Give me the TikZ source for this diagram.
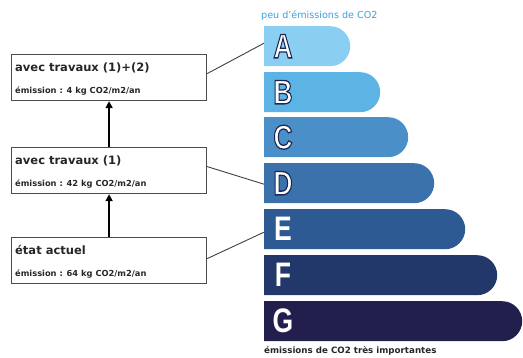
\documentclass[tikz,border=0pt]{standalone}
\usepackage{fontspec}
\setmainfont{DejaVu Sans}
\newfontfamily\letterfont{Liberation Sans}
\usetikzlibrary{shapes.misc,arrows.meta,calc}
\definecolor{cA}{HTML}{8ACFF1}
\definecolor{cB}{HTML}{5CB4E4}
\definecolor{cC}{HTML}{4B8FC9}
\definecolor{cD}{HTML}{3B72AC}
\definecolor{cE}{HTML}{2D5A92}
\definecolor{cF}{HTML}{22386A}
\definecolor{cG}{HTML}{231F4D}
\definecolor{cTop}{HTML}{3AA0DA}
\newcommand{\outlined}[1]{\special{pdf:literal direct 2 Tr 1.3 w 0.106 0.153 0.333 RG}#1\special{pdf:literal direct 0 Tr}}
\begin{document}
\begin{tikzpicture}[x=1pt,y=-1pt,
 bar/.style={rounded rectangle, rounded rectangle west arc=none, minimum height=40pt, inner sep=0pt, anchor=north west, draw=none},
 letter/.style={text=white, inner sep=0pt, font=\letterfont\bfseries\fontsize{34}{34}\selectfont},
 box/.style={draw=black!70, line width=1.2pt, minimum width=195pt, minimum height=46pt, inner sep=0pt, anchor=north west},
 title/.style={anchor=base west, inner sep=0pt, font=\bfseries\fontsize{11.5}{13}\selectfont, text=black!85},
 sub/.style={anchor=base west, inner sep=0pt, font=\bfseries\fontsize{8.3}{10}\selectfont, text=black!85},
 conn/.style={draw=black!75, line width=0.9pt},
 uparrow/.style={draw=black, line width=2.4pt, -{Triangle[length=7pt,width=7pt]}}
]
\useasboundingbox (0,0) rectangle (523,358);

% bars
\node[bar, fill=cA, minimum width=86pt]  (barA) at (264,26) {};
\node[bar, fill=cB, minimum width=116pt] (barB) at (264,72) {};
\node[bar, fill=cC, minimum width=144pt] (barC) at (264,117) {};
\node[bar, fill=cD, minimum width=170pt] (barD) at (264,163) {};
\node[bar, fill=cE, minimum width=201pt] (barE) at (264,209) {};
\node[bar, fill=cF, minimum width=233pt] (barF) at (264,255) {};
\node[bar, fill=cG, minimum width=258pt] (barG) at (264,301) {};

% letters
\node[letter] (lA) at ($(barA.west)+(19,0)$) {\scalebox{0.78}[1]{\outlined{A}}};
\node[letter] (lB) at ($(barB.west)+(19,0)$) {\scalebox{0.78}[1]{\outlined{B}}};
\node[letter] (lC) at ($(barC.west)+(19,0)$) {\scalebox{0.78}[1]{\outlined{C}}};
\node[letter] (lD) at ($(barD.west)+(19,0)$) {\scalebox{0.78}[1]{\outlined{D}}};
\node[letter] (lE) at ($(barE.west)+(19,0)$) {\scalebox{0.78}[1]{E}};
\node[letter] (lF) at ($(barF.west)+(19,0)$) {\scalebox{0.78}[1]{F}};
\node[letter] (lG) at ($(barG.west)+(19,0)$) {\scalebox{0.78}[1]{G}};

% scale captions
\node[anchor=base west, inner sep=0pt, text=cTop, font=\fontsize{9.6}{10}\selectfont] (toptext) at (261,19) {peu d'émissions de CO2};
\node[anchor=base west, inner sep=0pt, text=black!85, font=\bfseries\fontsize{8.7}{9}\selectfont] (bottext) at (264,354) {émissions de CO2 très importantes};

% boxes
\node[box] (box1) at (11,54) {};
\node[box] (box2) at (11,147) {};
\node[box] (box3) at (11,237) {};

\node[title] (t1) at ($(box1.north west)+(4,18)$) {avec travaux (1)+(2)};
\node[sub]   (s1) at ($(box1.north west)+(4,40)$) {émission : 4 kg CO2/m2/an};
\node[title] (t2) at ($(box2.north west)+(4,18)$) {avec travaux (1)};
\node[sub]   (s2) at ($(box2.north west)+(4,40)$) {émission : 42 kg CO2/m2/an};
\node[title] (t3) at ($(box3.north west)+(4,18)$) {état actuel};
\node[sub]   (s3) at ($(box3.north west)+(4,40)$) {émission : 64 kg CO2/m2/an};

% arrows
\draw[uparrow] (box2.north) -- (box1.south);
\draw[uparrow] (box3.north) -- (box2.south);

% connectors
\draw[conn] ([yshift=4pt]box1.east) -- ([yshift=3pt]barA.west);
\draw[conn] ([yshift=4pt]box2.east) -- ([yshift=-1pt]barD.west);
\draw[conn] ([yshift=2pt]box3.east) -- ([yshift=-3pt]barE.west);
\end{tikzpicture}
\end{document}
